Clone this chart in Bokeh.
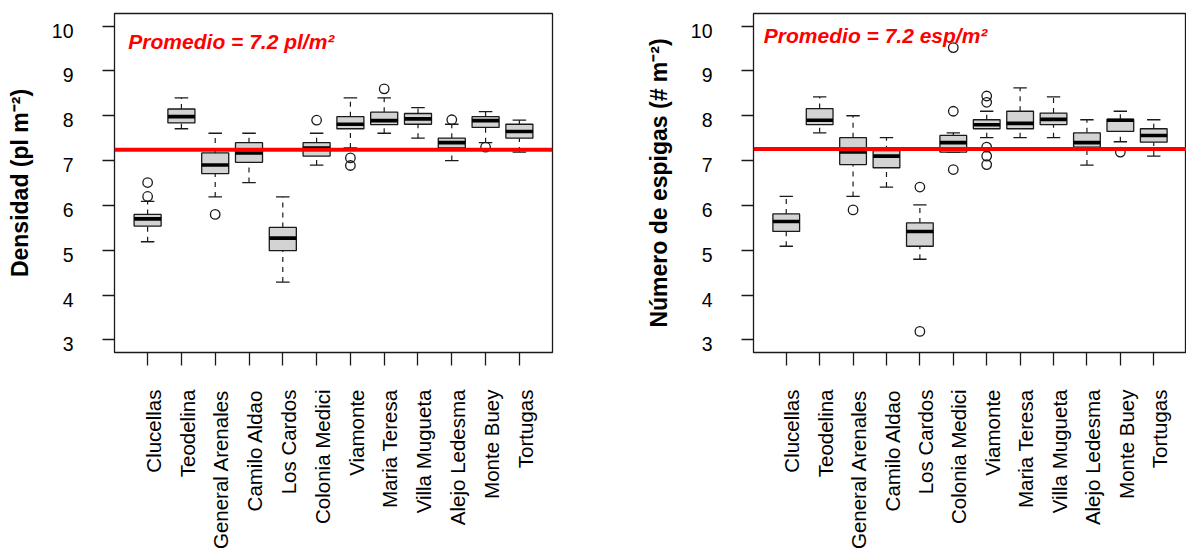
import math
import numpy as np
from bokeh.plotting import figure
from bokeh.models import (Range1d, FixedTicker, LinearAxis, CustomJSTickFormatter,
                          Span, Label)
from bokeh.layouts import row
from bokeh.embed import file_html
from bokeh.resources import INLINE

# ---------------- data ----------------
sites = ["Clucellas", "Teodelina", "General Arenales", "Camilo Aldao", "Los Cardos",
         "Colonia Medici", "Viamonte", "Maria Teresa", "Villa Mugueta",
         "Alejo Ledesma", "Monte Buey", "Tortugas"]
y_ticks = [3, 4, 5, 6, 7, 8, 9, 10]

# Densidad (pl m-2)
dens_low = [5.19, 7.71, 6.19, 6.51, 4.29, 6.90, 7.28, 7.61, 7.50, 7.00, 7.40, 7.19]
dens_q1 = [5.54, 7.84, 6.71, 6.96, 4.99, 7.10, 7.71, 7.80, 7.81, 7.28, 7.74, 7.50]
dens_med = [5.70, 7.98, 6.90, 7.17, 5.27, 7.28, 7.81, 7.89, 7.93, 7.40, 7.89, 7.65]
dens_q3 = [5.80, 8.15, 7.17, 7.40, 5.51, 7.40, 7.98, 8.08, 8.05, 7.50, 7.98, 7.81]
dens_up = [6.09, 8.40, 7.61, 7.61, 6.19, 7.61, 8.40, 8.40, 8.18, 7.81, 8.09, 7.90]
dens_out_site = ["Clucellas", "Clucellas", "General Arenales", "Colonia Medici",
                 "Viamonte", "Viamonte", "Maria Teresa", "Alejo Ledesma", "Monte Buey"]
dens_out_val = [6.20, 6.51, 5.80, 7.90, 7.06, 6.89, 8.60, 7.91, 7.30]
dens_mean = 7.24

# Numero de espigas (# m-2)
esp_low = [5.09, 7.62, 6.20, 6.41, 4.80, 7.19, 7.51, 7.51, 7.51, 6.90, 7.42, 7.10]
esp_q1 = [5.42, 7.80, 6.91, 6.84, 5.09, 7.19, 7.71, 7.71, 7.80, 7.30, 7.65, 7.41]
esp_med = [5.64, 7.90, 7.19, 7.10, 5.42, 7.40, 7.80, 7.83, 7.92, 7.40, 7.90, 7.56]
esp_q3 = [5.81, 8.16, 7.51, 7.22, 5.61, 7.56, 7.91, 8.10, 8.06, 7.62, 7.92, 7.71]
esp_up = [6.20, 8.42, 8.00, 7.51, 6.01, 7.62, 8.10, 8.62, 8.42, 7.91, 8.10, 7.91]
esp_out_site = ["General Arenales", "Los Cardos", "Los Cardos", "Colonia Medici",
                "Colonia Medici", "Colonia Medici", "Viamonte", "Viamonte", "Viamonte",
                "Viamonte", "Viamonte", "Monte Buey"]
esp_out_val = [5.90, 6.41, 3.19, 9.52, 8.10, 6.80, 8.44, 8.30, 7.30, 7.10, 6.91, 7.19]
esp_mean = 7.26

FONT = "Liberation Sans"
LINE = "#1a1a1a"


def panel(low, q1, med, q3, up, out_site, out_val, mean, ylabel, note, note_x, note_y,
          width, bl, br, bt, bb):
    xpos = np.arange(1, len(sites) + 1)
    low, q1, med, q3, up = map(np.asarray, (low, q1, med, q3, up))
    p = figure(width=width, height=555, output_backend="svg", toolbar_location=None,
               x_range=Range1d(0.02, 12.98), y_range=Range1d(2.72, 10.28),
               x_axis_type=None, y_axis_type=None,
               min_border_left=bl, min_border_right=br, min_border_top=bt,
               min_border_bottom=bb)
    p.background_fill_color = "white"
    p.border_fill_color = "white"
    p.outline_line_color = LINE
    p.outline_line_width = 1.3

    # whiskers
    p.segment(x0=xpos, y0=q3, x1=xpos, y1=up, line_color=LINE, line_width=1.2,
              line_dash="5 5")
    p.segment(x0=xpos, y0=low, x1=xpos, y1=q1, line_color=LINE, line_width=1.2,
              line_dash="5 5")
    # caps
    p.segment(x0=xpos - 0.2, y0=up, x1=xpos + 0.2, y1=up, line_color=LINE, line_width=1.3)
    p.segment(x0=xpos - 0.2, y0=low, x1=xpos + 0.2, y1=low, line_color=LINE, line_width=1.3)
    # boxes
    p.vbar(x=xpos, width=0.8, bottom=q1, top=q3, fill_color="#D3D3D3",
           line_color=LINE, line_width=1.3)
    # medians
    p.segment(x0=xpos - 0.4, y0=med, x1=xpos + 0.4, y1=med, line_color="black",
              line_width=3.6)
    # outliers
    ox = [sites.index(s) + 1 for s in out_site]
    p.scatter(x=ox, y=out_val, marker="circle", size=9.5, fill_color=None,
              line_color=LINE, line_width=1.3)

    # mean line
    p.add_layout(Span(location=mean, dimension="width", line_color="#FF0000",
                      line_width=4))
    p.add_layout(Label(x=note_x, y=note_y, text=note, text_color="#FF0000",
                       text_font=FONT, text_font_size="21px",
                       text_font_style="bold italic", text_baseline="alphabetic"))

    # x axis: tick marks
    ax_t = LinearAxis(ticker=FixedTicker(ticks=list(xpos)),
                      formatter=CustomJSTickFormatter(code="return ''"))
    ax_t.major_tick_out = 13
    ax_t.major_tick_in = 0
    ax_t.minor_tick_out = 0
    ax_t.minor_tick_in = 0
    ax_t.major_tick_line_color = LINE
    ax_t.major_tick_line_width = 1.3
    ax_t.axis_line_color = None
    ax_t.major_label_standoff = 0
    ax_t.major_label_text_font_size = "0px"
    ax_t.major_label_orientation = math.pi / 2
    p.add_layout(ax_t, "below")
    # x axis: labels
    ax_l = LinearAxis(ticker=FixedTicker(ticks=list(xpos + 0.17)),
                      formatter=CustomJSTickFormatter(
                          args=dict(names=sites),
                          code="return names[Math.round(tick - 0.17) - 1] || ''"))
    ax_l.major_tick_out = 0
    ax_l.major_tick_in = 0
    ax_l.minor_tick_out = 0
    ax_l.minor_tick_in = 0
    ax_l.major_tick_line_color = None
    ax_l.minor_tick_line_color = None
    ax_l.axis_line_color = None
    ax_l.major_label_standoff = 24
    ax_l.major_label_orientation = math.pi / 2
    ax_l.major_label_text_font = FONT
    ax_l.major_label_text_font_size = "20.5px"
    ax_l.major_label_text_color = "black"
    p.add_layout(ax_l, "below")

    # y axis: tick marks
    ay_t = LinearAxis(ticker=FixedTicker(ticks=y_ticks),
                      formatter=CustomJSTickFormatter(code="return ''"))
    ay_t.major_tick_out = 12
    ay_t.major_tick_in = 0
    ay_t.minor_tick_out = 0
    ay_t.minor_tick_in = 0
    ay_t.major_tick_line_color = LINE
    ay_t.major_tick_line_width = 1.3
    ay_t.axis_line_color = None
    ay_t.major_label_standoff = 0
    ay_t.major_label_text_font_size = "0px"
    p.add_layout(ay_t, "left")
    # y axis: labels + title
    ay_l = LinearAxis(ticker=FixedTicker(ticks=[t - 0.1 for t in y_ticks]),
                      formatter=CustomJSTickFormatter(
                          code="return String(Math.round(tick + 0.1))"))
    ay_l.major_tick_out = 0
    ay_l.major_tick_in = 0
    ay_l.minor_tick_out = 0
    ay_l.minor_tick_in = 0
    ay_l.major_tick_line_color = None
    ay_l.minor_tick_line_color = None
    ay_l.axis_line_color = None
    ay_l.major_label_standoff = 29
    ay_l.major_label_text_font = FONT
    ay_l.major_label_text_font_size = "19.5px"
    ay_l.major_label_text_color = "black"
    ay_l.axis_label = ylabel
    ay_l.axis_label_text_font = FONT
    ay_l.axis_label_text_font_size = "23px"
    ay_l.axis_label_text_font_style = "bold"
    ay_l.axis_label_text_color = "black"
    ay_l.axis_label_standoff = 16
    p.add_layout(ay_l, "left")
    return p


p1 = panel(dens_low, dens_q1, dens_med, dens_q3, dens_up, dens_out_site, dens_out_val,
           dens_mean, "Densidad (pl m\u207b\u00b2)", "Promedio = 7.2 pl/m\u00b2",
           0.43, 9.645, width=640, bl=114, br=88, bt=11, bb=202)
p2 = panel(esp_low, esp_q1, esp_med, esp_q3, esp_up, esp_out_site, esp_out_val,
           esp_mean, "N\u00famero de espigas (# m\u207b\u00b2)", "Promedio = 7.2 esp/m\u00b2",
           0.33, 9.78, width=546, bl=113, br=0, bt=13, bb=203)

layout = row(p1, p2, spacing=0)
open("out.html", "w").write(file_html(layout, INLINE))
